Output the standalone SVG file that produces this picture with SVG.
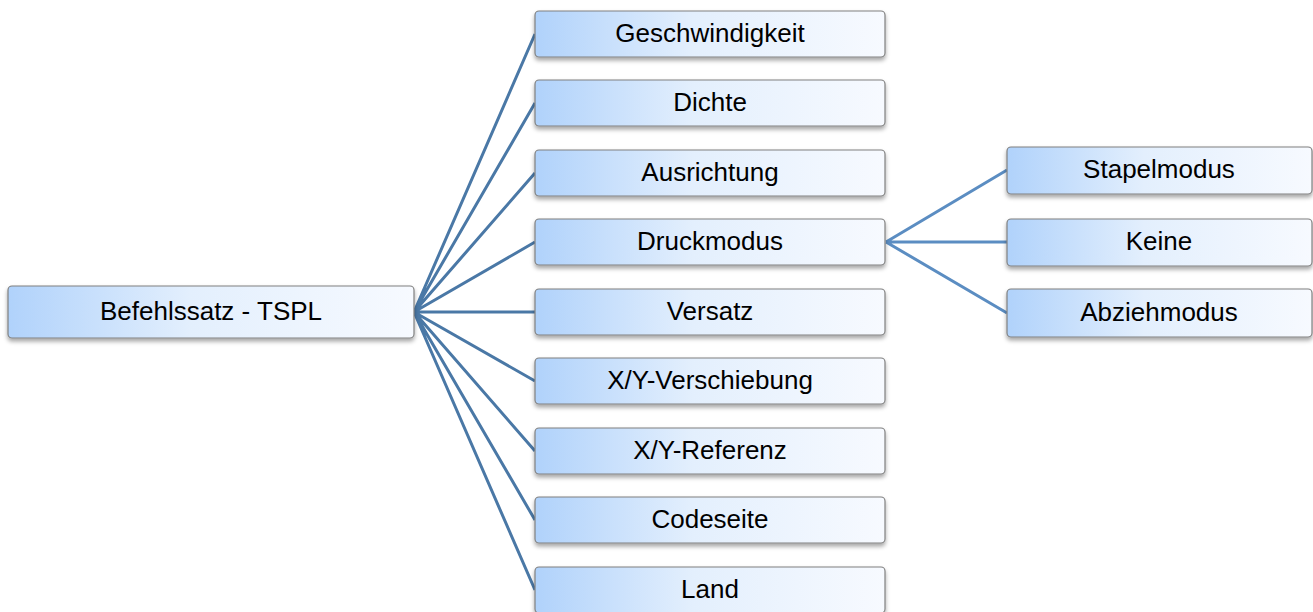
<svg xmlns="http://www.w3.org/2000/svg" width="1313" height="612" viewBox="0 0 1313 612">
<defs>
<linearGradient id="g" x1="0" y1="0" x2="1" y2="0">
<stop offset="0" stop-color="#b0d2fb"/>
<stop offset="0.45" stop-color="#e3effd"/>
<stop offset="1" stop-color="#f7faff"/>
</linearGradient>
<filter id="sh" x="-5%" y="-20%" width="110%" height="160%">
<feDropShadow dx="0" dy="3" stdDeviation="2" flood-color="#000" flood-opacity="0.35"/>
</filter>
</defs>
<style>
.box{fill:url(#g);stroke:#808080;stroke-width:1.2;filter:url(#sh)}
.t{font-family:"Liberation Sans",Arial,sans-serif;font-size:26px;fill:#000;text-anchor:middle;dominant-baseline:central}
.c1{stroke:#4a78a6;stroke-width:3;fill:none}
.c2{stroke:#5b8dc2;stroke-width:3;fill:none}
</style>
<rect width="1313" height="612" fill="#fff"/>
<g id="connectors">
<path class="c1" d="M414,312 L535,34 M414,312 L535,103 M414,312 L535,173 M414,312 L535,242 M414,312 L535,312 M414,312 L535,381 M414,312 L535,451 M414,312 L535,520 M414,312 L535,590"/>
<path class="c2" d="M886,242 L1007,170 M886,242 L1007,242 M886,242 L1007,313"/>
</g>
<g id="root"><rect class="box" x="8" y="286" width="406" height="52" rx="4"/><text class="t" x="211" y="311">Befehlssatz - TSPL</text></g>
<g id="n1"><rect class="box" x="535" y="11" width="350" height="46" rx="4"/><text class="t" x="710" y="33">Geschwindigkeit</text></g>
<g id="n2"><rect class="box" x="535" y="80" width="350" height="46" rx="4"/><text class="t" x="710" y="102">Dichte</text></g>
<g id="n3"><rect class="box" x="535" y="150" width="350" height="46" rx="4"/><text class="t" x="710" y="172">Ausrichtung</text></g>
<g id="n4"><rect class="box" x="535" y="219" width="350" height="46" rx="4"/><text class="t" x="710" y="241">Druckmodus</text></g>
<g id="n5"><rect class="box" x="535" y="289" width="350" height="46" rx="4"/><text class="t" x="710" y="311">Versatz</text></g>
<g id="n6"><rect class="box" x="535" y="358" width="350" height="46" rx="4"/><text class="t" x="710" y="380">X/Y-Verschiebung</text></g>
<g id="n7"><rect class="box" x="535" y="428" width="350" height="46" rx="4"/><text class="t" x="710" y="450">X/Y-Referenz</text></g>
<g id="n8"><rect class="box" x="535" y="497" width="350" height="46" rx="4"/><text class="t" x="710" y="519">Codeseite</text></g>
<g id="n9"><rect class="box" x="535" y="567" width="350" height="46" rx="4"/><text class="t" x="710" y="589">Land</text></g>
<g id="s1"><rect class="box" x="1007" y="147" width="305" height="47" rx="4"/><text class="t" x="1159" y="169">Stapelmodus</text></g>
<g id="s2"><rect class="box" x="1007" y="219" width="305" height="47" rx="4"/><text class="t" x="1159" y="241">Keine</text></g>
<g id="s3"><rect class="box" x="1007" y="289" width="305" height="48" rx="4"/><text class="t" x="1159" y="312">Abziehmodus</text></g>
</svg>
